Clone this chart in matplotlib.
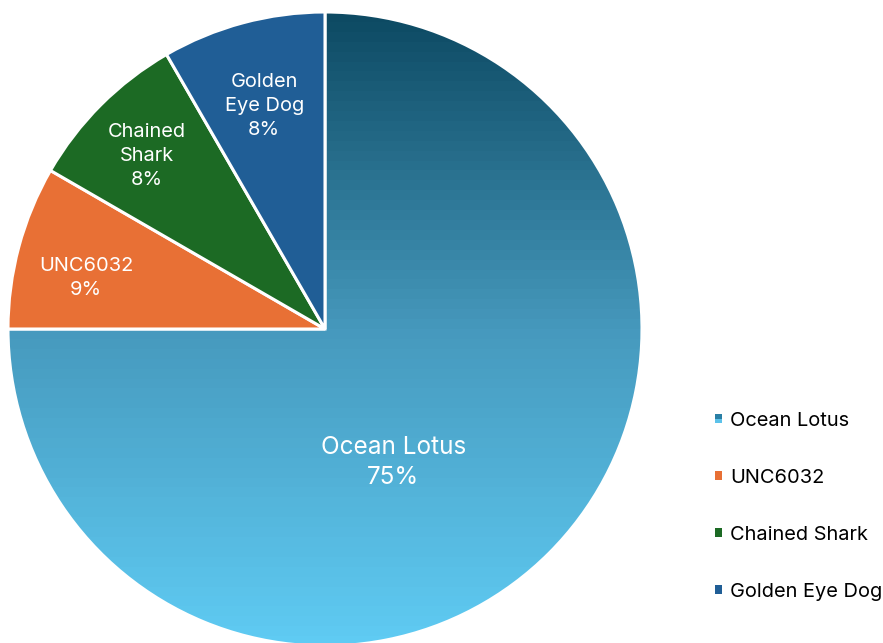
import numpy as np
import matplotlib
matplotlib.use("Agg")
import matplotlib.pyplot as plt
from matplotlib.colors import LinearSegmentedColormap
from matplotlib.patches import Patch, Rectangle
from matplotlib.legend_handler import HandlerPatch

plt.rcParams['font.family'] = ['Inter', 'DejaVu Sans']

# Data
groups = ["Ocean Lotus", "UNC6032", "Chained Shark", "Golden Eye Dog"]
counts = [27, 3, 3, 3]
colors = ["#3a8fb5", "#e87035", "#1c6a24", "#205e96"]
gradient_stops = ["#0d4a63", "#4699bd", "#5fcbf3"]


def percent_labels(values):
    """Whole-number percentages that add up to 100 (largest remainder)."""
    vals = np.asarray(values, dtype=float)
    raw = vals / vals.sum() * 100
    base = np.floor(raw).astype(int)
    rest = 100 - base.sum()
    order = np.argsort(-(raw - base), kind="stable")
    for i in order[:rest]:
        base[i] += 1
    return [f"{p}%" for p in base]


pcts = percent_labels(counts)

W, H = 883, 643
fig = plt.figure(figsize=(W / 100, H / 100), dpi=100)
ax = fig.add_axes([0, 0, 1, 1])

cx, cy, R = 325, H - 329, 317
wedges, _ = ax.pie(counts, colors=colors, startangle=90, counterclock=False,
                   center=(cx, cy), radius=R,
                   wedgeprops=dict(edgecolor="white", linewidth=2.2))
ax.set_xlim(0, W)
ax.set_ylim(0, H)
ax.set_aspect("equal")
ax.axis("off")

# Vertical gradient fill for the largest slice
cmap = LinearSegmentedColormap.from_list("lotus", gradient_stops)
grad = np.linspace(0, 1, 64).reshape(-1, 1)
big = wedges[0]
big.set_facecolor("none")
im = ax.imshow(grad, cmap=cmap, aspect="auto",
               extent=(cx - R, cx + R, cy - R, cy + R), origin="upper",
               interpolation="nearest", zorder=big.get_zorder() - 0.1)
im.set_clip_path(big)
ax.set_xlim(0, W)
ax.set_ylim(0, H)

# Slice labels: offsets from the centre in units of radius, font sizes
label_offsets = [(0.216, -0.421), (-0.754, 0.16), (-0.562, 0.545), (-0.192, 0.704)]
label_sizes = [17.5, 14.4, 14.4, 14.4]
label_spacing = [1.38, 1.42, 1.42, 1.42]
label_names = ["Ocean Lotus", "UNC6032", "Chained\nShark", "Golden\nEye Dog"]
for name, pct, (ox, oy), fs, ls in zip(label_names, pcts, label_offsets,
                                       label_sizes, label_spacing):
    ax.text(cx + ox * R, cy + oy * R, f"{name}\n{pct}", color="white",
            ha="center", va="center", fontsize=fs, linespacing=ls, zorder=5)


class GradientHandler(HandlerPatch):
    def create_artists(self, legend, orig_handle, xdescent, ydescent,
                       width, height, fontsize, trans):
        top = Rectangle((-xdescent, -ydescent + height / 2), width, height / 2,
                        facecolor="#2a7fa5", edgecolor="none",
                        transform=trans)
        bot = Rectangle((-xdescent, -ydescent), width, height / 2,
                        facecolor="#5cc2ea", edgecolor="none",
                        transform=trans)
        return [top, bot]


handles = [Patch(facecolor=c, edgecolor="none") for c in colors]
handler_map = {handles[0]: GradientHandler()}
fig.legend(handles, groups, handler_map=handler_map,
           loc="upper left", bbox_to_anchor=(715 / W, 1 - 412 / H),
           frameon=False, fontsize=14.4, handlelength=0.33, handleheight=0.33,
           handletextpad=0.42, labelspacing=1.95, borderpad=0, borderaxespad=0)

fig.savefig("out.png", dpi=100, facecolor="white")
